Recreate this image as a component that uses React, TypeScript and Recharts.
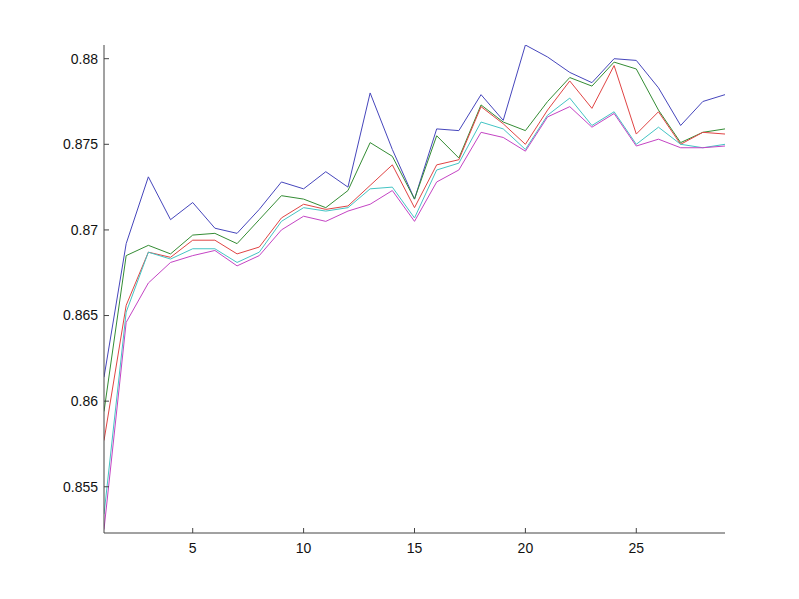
import React from "react"
import { LineChart, Line, XAxis, YAxis } from "recharts"

const xs = [1, 2, 3, 4, 5, 6, 7, 8, 9, 10, 11, 12, 13, 14, 15, 16, 17, 18, 19, 20, 21, 22, 23, 24, 25, 26, 27, 28, 29]

const blue = [0.8614, 0.8692, 0.8731, 0.8706, 0.8716, 0.8701, 0.8698, 0.8712, 0.8728, 0.8724, 0.8734, 0.8725, 0.878, 0.8747, 0.8718, 0.8759, 0.8758, 0.8779, 0.8764, 0.8808, 0.8801, 0.8792, 0.8786, 0.88, 0.8799, 0.8783, 0.8761, 0.8775, 0.8779]
const green = [0.8594, 0.8685, 0.8691, 0.8686, 0.8697, 0.8698, 0.8692, 0.8706, 0.872, 0.8718, 0.8713, 0.8723, 0.8751, 0.8743, 0.8718, 0.8755, 0.8742, 0.8773, 0.8763, 0.8758, 0.8775, 0.8789, 0.8784, 0.8798, 0.8794, 0.877, 0.8751, 0.8757, 0.8759]
const red = [0.8577, 0.8656, 0.8687, 0.8684, 0.8694, 0.8694, 0.8686, 0.869, 0.8707, 0.8715, 0.8712, 0.8714, 0.8726, 0.8738, 0.8713, 0.8738, 0.8741, 0.8772, 0.8762, 0.875, 0.877, 0.8787, 0.8771, 0.8796, 0.8756, 0.8769, 0.875, 0.8757, 0.8756]
const cyan = [0.8534, 0.8652, 0.8687, 0.8683, 0.8689, 0.8689, 0.8681, 0.8687, 0.8705, 0.8713, 0.8711, 0.8713, 0.8724, 0.8725, 0.8707, 0.8735, 0.8739, 0.8763, 0.8759, 0.8747, 0.8767, 0.8777, 0.8761, 0.8769, 0.875, 0.876, 0.875, 0.8748, 0.875]
const magenta = [0.8525, 0.8646, 0.8669, 0.8681, 0.8685, 0.8688, 0.8679, 0.8685, 0.87, 0.8708, 0.8705, 0.8711, 0.8715, 0.8723, 0.8705, 0.8728, 0.8735, 0.8757, 0.8754, 0.8746, 0.8766, 0.8772, 0.876, 0.8768, 0.8749, 0.8753, 0.8748, 0.8748, 0.8749]

const xTicks = [5, 10, 15, 20, 25]
const yTicks = [0.855, 0.86, 0.865, 0.87, 0.875, 0.88]

const data = xs.map((x, i) => ({
  x,
  blue: blue[i],
  green: green[i],
  red: red[i],
  cyan: cyan[i],
  magenta: magenta[i],
}))

const font = "'Liberation Sans', Arial, sans-serif"
const axisColor = "#444"

function YTick(props: any) {
  const { x, y, payload } = props
  return (
    <g>
      <line x1={x + 6} x2={x + 11} y1={y} y2={y} stroke={axisColor} />
      <text x={x} y={y} dy="0.35em" textAnchor="end" fontSize={14} fontFamily={font} fill="#111">
        {String(+payload.value.toFixed(3))}
      </text>
    </g>
  )
}

function XTick(props: any) {
  const { x, y, payload } = props
  return (
    <g>
      <line x1={x} x2={x} y1={y - 8} y2={y - 13} stroke={axisColor} />
      <text x={x} y={y} dy="0.85em" textAnchor="middle" fontSize={14} fontFamily={font} fill="#111">
        {payload.value}
      </text>
    </g>
  )
}

export default function App() {
  return (
    <div style={{ position: "absolute", left: 0, top: 0, width: 799, height: 599, background: "#fff" }}>
      <LineChart width={799} height={599} data={data} margin={{ top: 45, right: 74, bottom: 36, left: 44 }}>
        <XAxis
          dataKey="x"
          type="number"
          domain={[1, 29]}
          ticks={xTicks}
          height={30}
          stroke={axisColor}
          tickSize={0}
          tickMargin={8}
          tick={<XTick />}
          allowDataOverflow
        />
        <YAxis
          type="number"
          domain={[0.8523, 0.8808]}
          ticks={yTicks}
          width={60}
          stroke={axisColor}
          tickSize={0}
          tickMargin={6}
          tick={<YTick />}
          allowDataOverflow
        />
        <Line type="linear" dataKey="blue" stroke="#4646bc" strokeWidth={1} dot={false} isAnimationActive={false} />
        <Line type="linear" dataKey="green" stroke="#348c34" strokeWidth={1} dot={false} isAnimationActive={false} />
        <Line type="linear" dataKey="red" stroke="#e04444" strokeWidth={1} dot={false} isAnimationActive={false} />
        <Line type="linear" dataKey="cyan" stroke="#44c4c4" strokeWidth={1} dot={false} isAnimationActive={false} />
        <Line type="linear" dataKey="magenta" stroke="#c444c4" strokeWidth={1} dot={false} isAnimationActive={false} />
      </LineChart>
    </div>
  )
}
